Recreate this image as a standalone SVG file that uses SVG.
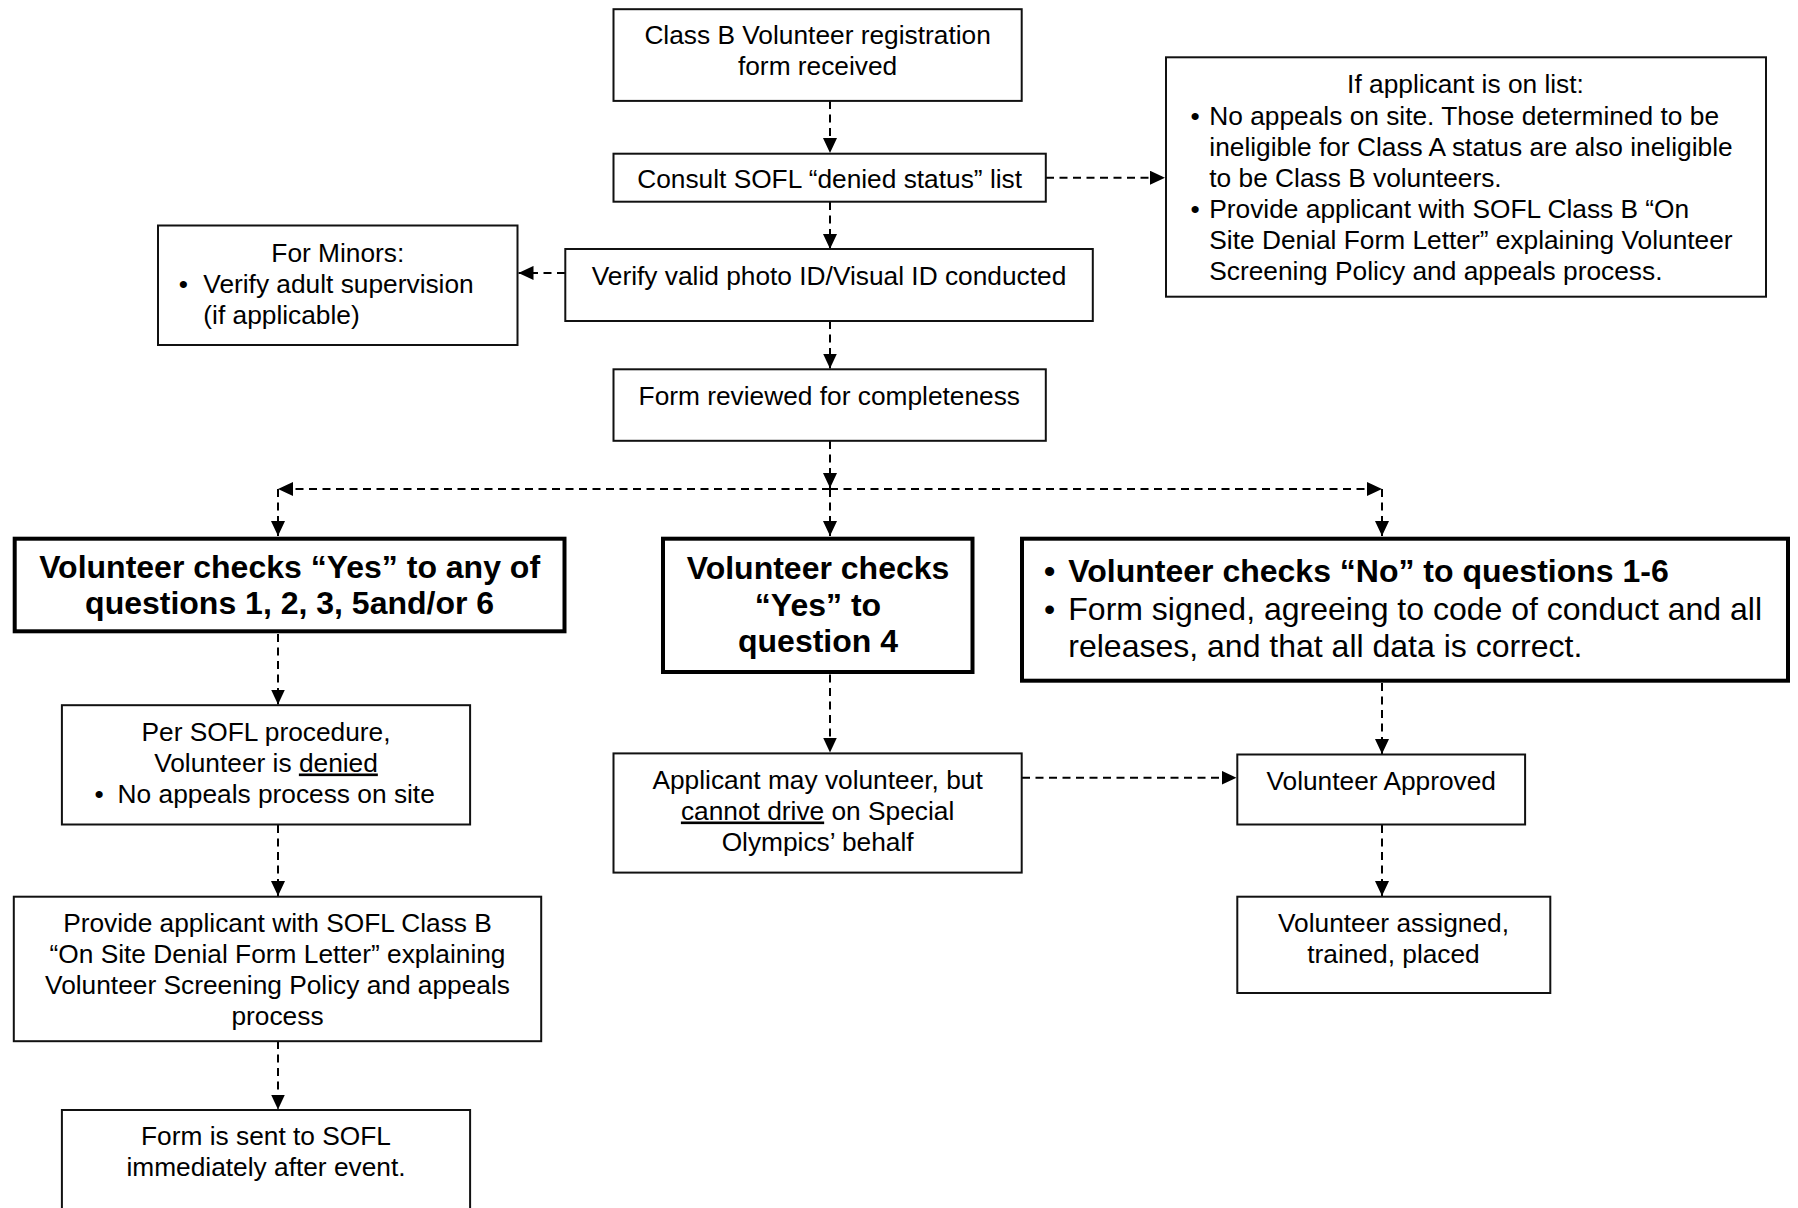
<svg xmlns="http://www.w3.org/2000/svg" width="1798" height="1208" viewBox="0 0 1798 1208">
<defs>
<marker id="ah" markerUnits="userSpaceOnUse" markerWidth="15" markerHeight="14" refX="15" refY="7" orient="auto">
<path d="M0,0 L15,7 L0,14 Z" fill="#000"/>
</marker>
<style>
.box{fill:#fff;stroke:#111;stroke-width:2}
.bold{fill:#fff;stroke:#000;stroke-width:4}
text{font-family:"Liberation Sans",Arial,sans-serif;font-size:26.3px;fill:#000}
.c{text-anchor:middle}
.b{font-weight:bold;font-size:32px}
.r32{font-size:32px}
.con{fill:none;stroke:#000;stroke-width:2;stroke-dasharray:8 5.5;marker-end:url(#ah)}
.u{text-decoration:underline}
</style>
</defs>
<rect width="1798" height="1208" fill="#fff"/>

<g id="connectors">
<path class="con" d="M830,101 V153"/>
<path class="con" d="M830,202 V249"/>
<path class="con" d="M1046,177.7 H1165"/>
<path class="con" d="M565,272.9 H518.5"/>
<path class="con" d="M830,321 V368.5"/>
<path class="con" d="M830,441 V488"/>
<path class="con" d="M830,489 V536"/>
<path class="con" d="M830,489 H278"/>
<path class="con" d="M830,489 H1382"/>
<path class="con" d="M278,489 V536"/>
<path class="con" d="M1382,489 V536"/>
<path class="con" d="M278,634 V704.5"/>
<path class="con" d="M278,825 V896"/>
<path class="con" d="M278,1041 V1109.5"/>
<path class="con" d="M830,674.5 V752.5"/>
<path class="con" d="M1022,777.7 H1236.5"/>
<path class="con" d="M1382,683 V754"/>
<path class="con" d="M1382,825 V896"/>
</g>

<g id="n1">
<rect class="box" x="613.5" y="9.2" width="408.2" height="91.7"/>
<text class="c" x="817.6" y="44.3">Class B Volunteer registration</text>
<text class="c" x="817.6" y="75.3">form received</text>
</g>

<g id="n2">
<rect class="box" x="613.5" y="153.7" width="432.3" height="48"/>
<text class="c" x="829.6" y="188.3">Consult SOFL “denied status” list</text>
</g>

<g id="n3">
<rect class="box" x="1166" y="57.3" width="600" height="239.4"/>
<text class="c" x="1465.5" y="93.3">If applicant is on list:</text>
<text class="c" x="1195" y="125">•</text>
<text x="1209.3" y="125">No appeals on site. Those determined to be</text>
<text x="1209.3" y="156">ineligible for Class A status are also ineligible</text>
<text x="1209.3" y="186.7">to be Class B volunteers.</text>
<text class="c" x="1195" y="218.3">•</text>
<text x="1209.3" y="218.3">Provide applicant with SOFL Class B “On</text>
<text x="1209.3" y="249.3">Site Denial Form Letter” explaining Volunteer</text>
<text x="1209.3" y="280">Screening Policy and appeals process.</text>
</g>

<g id="n4">
<rect class="box" x="565.3" y="249" width="527.5" height="72"/>
<text class="c" x="829" y="285">Verify valid photo ID/Visual ID conducted</text>
</g>

<g id="n5">
<rect class="box" x="158" y="225.5" width="359.5" height="119.5"/>
<text class="c" x="337.8" y="261.7">For Minors:</text>
<text class="c" x="183.3" y="292.7">•</text>
<text x="203.3" y="292.7">Verify adult supervision</text>
<text x="203.3" y="323.7">(if applicable)</text>
</g>

<g id="n6">
<rect class="box" x="613.5" y="369.3" width="432.3" height="71.5"/>
<text class="c" x="829.3" y="405">Form reviewed for completeness</text>
</g>

<g id="n7">
<rect class="bold" x="14.7" y="538.7" width="549.8" height="92.6"/>
<text class="c b" x="289.6" y="578">Volunteer checks “Yes” to any of</text>
<text class="c b" x="289.6" y="614">questions 1, 2, 3, 5and/or 6</text>
</g>

<g id="n8">
<rect class="bold" x="663" y="538.7" width="309.5" height="133.3"/>
<text class="c b" x="818" y="579.3">Volunteer checks</text>
<text class="c b" x="818" y="615.5">“Yes” to</text>
<text class="c b" x="818" y="652">question 4</text>
</g>

<g id="n9">
<rect class="bold" x="1022" y="538.7" width="766" height="142"/>
<text class="c b" x="1049.5" y="581.7">•</text>
<text class="b" x="1068.3" y="581.7">Volunteer checks “No” to questions 1-6</text>
<text class="c r32" x="1049.5" y="620">•</text>
<text class="r32" x="1068.3" y="620">Form signed, agreeing to code of conduct and all</text>
<text class="r32" x="1068.3" y="656.7">releases, and that all data is correct.</text>
</g>

<g id="n10">
<rect class="box" x="61.9" y="705.2" width="408.2" height="119.3"/>
<text class="c" x="266" y="740.5">Per SOFL procedure,</text>
<text class="c" x="266" y="771.5">Volunteer is <tspan class="u">denied</tspan></text>
<text class="c" x="99" y="802.7">•</text>
<text x="117.6" y="802.7">No appeals process on site</text>
</g>

<g id="n11">
<rect class="box" x="13.8" y="896.7" width="527.4" height="144.5"/>
<text class="c" x="277.5" y="931.5">Provide applicant with SOFL Class B</text>
<text class="c" x="277.5" y="962.5">“On Site Denial Form Letter” explaining</text>
<text class="c" x="277.5" y="993.5">Volunteer Screening Policy and appeals</text>
<text class="c" x="277.5" y="1024.5">process</text>
</g>

<g id="n12">
<rect class="box" x="61.9" y="1110" width="408.2" height="110"/>
<text class="c" x="266" y="1145">Form is sent to SOFL</text>
<text class="c" x="266" y="1176">immediately after event.</text>
</g>

<g id="n13">
<rect class="box" x="613.5" y="753.4" width="408.2" height="119.2"/>
<text class="c" x="817.6" y="788.5">Applicant may volunteer, but</text>
<text class="c" x="817.6" y="819.5"><tspan class="u">cannot drive</tspan> on Special</text>
<text class="c" x="817.6" y="850.5">Olympics’ behalf</text>
</g>

<g id="n14">
<rect class="box" x="1237.3" y="754.5" width="287.8" height="70"/>
<text class="c" x="1381.2" y="789.5">Volunteer Approved</text>
</g>

<g id="n15">
<rect class="box" x="1237.3" y="896.7" width="313" height="96.3"/>
<text class="c" x="1393.5" y="931.7">Volunteer assigned,</text>
<text class="c" x="1393.5" y="962.7">trained, placed</text>
</g>
</svg>
